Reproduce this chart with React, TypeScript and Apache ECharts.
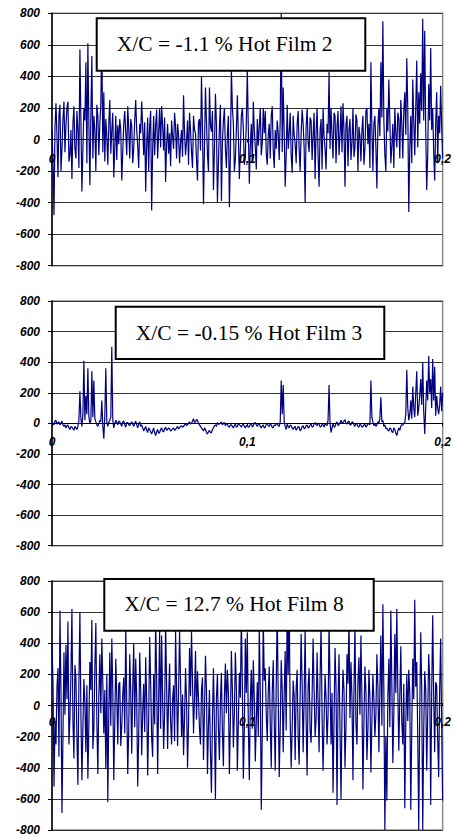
import React, { useEffect, useRef } from "react";
import * as echarts from "echarts";

// Hot-film signals sampled over 0 … 0.2 s (one array per sensor)
const timeSpan = 0.2;

const hotFilm2 = [
  60, -150, -480, 80, 230, 20, -240, 160, 220, -200, -60, 130, 240, -80, 90, 200, 240, -140, -100, 60,
  -250, 100, 210, -60, -120, 180, 60, -180, 570, 120, -330, -60, 200, 120, 490, -150, 610, 100, -290, 150,
  530, -120, 150, 60, -200, 220, 150, -100, 100, 230, 650, -80, 300, -140, 130, 20, -160, 100, 250, -90,
  60, 170, -240, -50, 150, -130, 90, -30, 130, 60, -260, -80, 100, 180, 40, -100, 210, 70, -120, 130,
  90, -150, -60, 120, 250, 60, -40, -180, 100, 40, 240, 80, -100, 110, -330, -40, 140, -200, 90, 180,
  -450, -60, 150, -100, 90, 190, -120, 40, 200, -50, 210, 90, -70, 140, -270, -30, 100, -90, 40, -170,
  120, 20, -60, 170, 80, -120, 100, 30, -150, -20, 60, -110, 280, 40, -100, -10, 120, -160, 170, 60,
  -80, -180, 150, 60, 40, -130, -260, 110, 130, -70, 400, 80, -410, -50, 330, 120, -100, -200, 330, 90,
  50, 180, -320, -70, 290, 100, -400, -150, 80, 220, -390, -20, 120, 200, -60, -180, 40, 150, -430, -100,
  450, 200, 100, -200, -120, 60, 280, 20, -250, -60, 150, 200, 60, -160, -100, 110, 440, 60, -280, -40,
  100, -150, 240, 60, -50, -190, 130, -40, 80, 200, -100, -20, 200, 40, 180, -90, -160, 30, 100, -120,
  150, 210, -70, -180, 60, -60, 120, 40, -130, 120, 800, -80, 330, 50, -300, -100, 220, -60, 40, 170,
  -100, -210, 150, 30, -30, -150, 100, 180, -60, -200, 40, 190, 100, -50, -400, 80, 200, -20, -80, 140,
  120, -130, 30, 170, -250, 50, 200, -100, -300, 60, 130, -190, 200, 20, -60, -190, 100, 40, 430, -60,
  200, 30, -120, 170, 150, -150, 80, 180, -100, 30, 210, -80, 230, 60, -300, 100, 150, -170, 60, 130,
  -130, -20, 200, -110, -50, 160, 120, -200, 80, 20, -140, 60, 150, -160, -60, 180, 200, -30, 100, -180,
  490, 60, -200, 100, 150, -50, -310, 80, 200, 20, 490, 140, 750, 120, -100, -200, 200, 50, 380, 120,
  -150, -40, 100, -180, 200, 40, -50, 170, 130, -120, 250, 100, -120, 180, 300, 30, 515, 200, -460, -60,
  150, -150, 380, 120, -100, 200, 500, -50, 300, 100, 420, 180, 765, 120, 690, 60, -320, -100, 350, 120,
  580, 60, 200, -80, -260, 100, 300, -150, 150, 40, 340, 80, -120,
];

const hotFilm3 = [
  10, 0, -10, 15, 20, -5, 5, 10, -10, 0, 15, -10, -20, -10, -30, -15, -10, -30, -40, -20,
  -25, -35, -45, -20, -30, -40, -20, 20, 210, 30, -20, 60, 410, 20, 180, 60, 360, 40, 0, 20,
  340, 40, 280, 30, 10, -10, -20, 0, 20, 10, 150, -20, -100, 50, 360, 10, -20, 5, 20, 40,
  500, 20, -30, 0, 20, 5, -10, 15, 10, -5, -20, 10, 15, -10, -25, 5, 5, -10, -15, 0,
  10, -5, -20, 0, 15, -10, -30, -5, 10, -20, -10, -30, -50, -35, -20, -45, -60, -30, -40, -55,
  -70, -50, -30, -60, -80, -55, -40, -65, -60, -40, -30, -50, -55, -35, -25, -45, -40, -30, -35, -50,
  -45, -35, -30, -45, -40, -30, -20, -35, -30, -20, -15, -25, -20, -10, 0, -15, -10, 0, 10, -5,
  0, 15, 30, 5, 10, 25, 20, 0, -10, -20, -30, -40, -50, -30, -40, -60, -70, -55, -45, -60,
  -60, -40, -30, -15, -10, -20, 5, -5, -5, 0, 10, -10, 0, 5, -15, -5, -5, -20, -25, -10,
  -10, -20, -30, -15, -5, -25, -20, 0, -10, -15, -25, -10, -5, -20, -30, -15, -10, -25, -20, -5,
  0, -25, -15, 0, 5, -10, -20, -5, -5, -20, -30, -15, -10, -30, -25, -5, 0, -15, -20, -5,
  -10, -25, -30, -10, -15, -5, 0, -15, -20, 10, 280, 60, 250, 10, -20, -40, -5, -20, -30, -10,
  -15, -30, -40, -25, -20, -45, -35, -20, -25, -50, -40, -20, -15, -35, -30, -15, -10, -30, -25, -10,
  -5, -25, -20, -5, 5, -10, -15, 0, -5, -25, -20, -5, -10, -25, 0, -10, -15, 20, 250, 0,
  -60, -30, 0, -25, -20, 0, 10, -15, -10, 5, 20, 0, 5, 15, 25, 0, -5, 10, 15, -10,
  -10, 10, 5, -10, -20, 0, -5, -20, -25, -5, -10, -25, -20, -10, -5, -25, -15, -5, 0, -10,
  280, 40, 10, -15, 0, -20, -10, 10, 5, 30, 170, 10, 20, -20, -10, -35, -30, -45, -50, -30,
  -35, -55, -60, -30, -40, -65, -80, -50, -30, -45, -20, -10, -10, 0, 5, 60, 350, 100, 20, 60,
  150, 30, 240, 100, 40, 200, 340, 50, 100, 180, 290, 120, 400, 80, -70, 100, 280, 150, 440, 200,
  290, 100, 420, 150, 370, 50, 180, 100, 60, 120, 240, 80, 200,
];

const hotFilm8 = [
  400, 150, -520, -100, -250, 120, 240, -330, 610, 100, -690, -200, 340, -60, 390, 40, 540, -250, -80, 200,
  620, -100, -340, 260, 180, -200, -510, 150, 600, -50, -480, -150, 170, 20, -300, 130, -470, -120, 280, 100,
  550, -280, -150, 240, 530, -100, -440, 60, 330, -50, 430, 140, -180, 100, -410, 200, -620, -50, 340, -130,
  430, 90, -480, -100, 300, 60, -250, 140, 150, -260, -130, 70, 180, -180, 510, 20, -440, -150, 330, 80,
  -310, 120, 400, -140, 300, 50, -520, -200, 340, 100, -320, -40, 140, -170, 310, 40, -450, -90, 440, 150,
  -210, -330, 200, -120, 550, 180, -440, 30, 480, -150, 450, 60, -280, -60, 530, 140, -280, 50, 270, -100,
  -250, 40, 130, -230, 480, 110, -260, 90, 480, 160, -200, 70, -320, -80, 240, 30, -400, -120, 370, 60,
  480, 150, -180, 60, 350, -90, 220, 40, -150, -250, 100, 180, -350, -40, 320, 100, -440, -130, 100, -300,
  -560, -80, 240, -120, -600, 50, 200, -140, -350, 30, 210, -170, -390, 60, 270, -50, 230, 80, -440, -100,
  350, 100, -270, -50, 340, 120, -420, -100, 210, 50, 580, 130, -470, -150, 430, 80, 470, -120, -480, 40,
  230, -150, 290, 50, -360, -100, 150, -200, 510, 100, -670, -180, 560, 160, 240, -60, -230, 90, 250, -120,
  -400, 80, 290, -100, -420, 130, 620, 40, -460, -150, 290, 100, -300, 70, 350, -160, 650, 200, 700, -100,
  -400, -150, 160, 60, -350, 110, 230, -200, -380, 70, 460, 130, -300, 40, 500, -100, -450, 120, 240, -160,
  -240, 60, 430, 100, -200, -90, 340, 20, -300, 180, 520, -60, -420, -100, 200, 50, -250, -60, 530, 150,
  -250, 80, -560, -100, 370, 120, -640, 30, 330, -150, -600, -50, 230, 100, -400, -130, 330, 140, 560, -80,
  280, 50, -480, 100, 520, -120, -250, 160, 310, -60, 450, 40, -540, -110, 250, 90, -350, -150, 230, 60,
  -430, -100, 200, 40, -200, -60, 330, 120, -300, 100, 450, -130, 650, 100, -800, -200, -610, 60, 300, -140,
  610, 150, -370, -60, 460, 80, 620, 100, -290, 50, 380, -100, -250, 140, -660, -120, 200, -100, 230, 80,
  -670, -150, 300, 40, 680, 120, 280, -200, -800, -50, 470, 100, -800, -160, 220, 100, -420, -60, 330, 160,
  -640, 80, 580, 60, -300, 150, 130, -220, -460, 100, 430, -130, -610,
];

const panelTitles = [
  "X/C = -1.1 % Hot Film 2",
  "X/C = -0.15 % Hot Film 3",
  "X/C = 12.7 % Hot Film 8",
];

const signals = [hotFilm2, hotFilm3, hotFilm8];

const yMin = -800;
const yMax = 800;
const yStep = 200;
const xTicks = [0, 0.1, 0.2];

// panel placement (pixels)
const plotLeft = 52;
const plotWidth = 393;
const panels = [
  { top: 13.3, height: 252.4, box: { x: 96.7, y: 18.3, w: 268.6, h: 52.4 }, textY: 44 },
  { top: 301, height: 244.7, box: { x: 115.7, y: 306.7, w: 268.6, h: 52.3 }, textY: 332.5 },
  { top: 581, height: 253.7, box: { x: 104.3, y: 579, w: 269.4, h: 51.7 }, textY: 604.3 },
];

const labelFont = {
  color: "#000",
  fontFamily: '"Liberation Sans", Arial, sans-serif',
  fontWeight: "bold" as const,
  fontStyle: "italic" as const,
  fontSize: 12,
};

function toPoints(values: number[]) {
  const step = timeSpan / (values.length - 1);
  return values.map((v, i) => [i * step, v]);
}

function formatTime(v: number) {
  if (Math.abs(v) < 1e-9) return "0";
  return (Math.round(v * 10) / 10).toFixed(1).replace(".", ",");
}

export default function App() {
  const ref = useRef<HTMLDivElement>(null);

  useEffect(() => {
    if (!ref.current) return;
    const chart = echarts.init(ref.current, null, { renderer: "svg" });

    const grid = panels.map((p) => ({
      left: plotLeft,
      top: p.top,
      width: plotWidth,
      height: p.height,
      show: true,
      borderColor: "#8c8c8c",
      borderWidth: 1.5,
      backgroundColor: "#fff",
    }));

    // the time axis crosses the value axis at zero, which sits mid-height
    const xAxis = panels.map((p, k) => ({
      type: "value" as const,
      gridIndex: k,
      position: "bottom" as const,
      offset: -p.height / 2,
      min: xTicks[0],
      max: xTicks[xTicks.length - 1],
      interval: xTicks[1] - xTicks[0],
      axisLine: { show: true, onZero: false, lineStyle: { color: "#000", width: 1.2 } },
      axisTick: { show: true, length: 3, lineStyle: { color: "#000" } },
      axisLabel: { ...labelFont, margin: 13, formatter: formatTime },
      splitLine: { show: false },
      z: 4,
    }));

    const yAxis = panels.map((_, k) => ({
      type: "value" as const,
      gridIndex: k,
      min: yMin,
      max: yMax,
      interval: yStep,
      axisLine: { show: true, onZero: false, lineStyle: { color: "#000", width: 1.5 } },
      axisTick: { show: true, length: 4, lineStyle: { color: "#000" } },
      axisLabel: { ...labelFont, margin: 12 },
      splitLine: { show: true, lineStyle: { color: "#333", width: 1 } },
    }));

    const series = signals.map((values, k) => ({
      type: "line" as const,
      xAxisIndex: k,
      yAxisIndex: k,
      data: toPoints(values),
      showSymbol: false,
      symbol: "none",
      clip: true,
      lineStyle: { color: "#000080", width: 1.2 },
      z: 3,
    }));

    const graphic = panels.map((p, k) => ({
      type: "group" as const,
      z: 100,
      children: [
        {
          type: "rect" as const,
          z: 100,
          shape: { x: p.box.x, y: p.box.y, width: p.box.w, height: p.box.h },
          style: { fill: "#fff", stroke: "#000", lineWidth: 2 },
        },
        {
          type: "text" as const,
          z: 101,
          x: p.box.x + 20,
          y: p.textY,
          style: {
            text: panelTitles[k],
            fill: "#000",
            fontSize: 21.5,
            fontFamily: '"Liberation Serif", "Times New Roman", serif',
            align: "left",
            verticalAlign: "middle",
          },
        },
      ],
    }));

    chart.setOption({
      animation: false,
      backgroundColor: "#fff",
      grid,
      xAxis,
      yAxis,
      series,
      graphic,
    });

    return () => chart.dispose();
  }, []);

  return (
    <div
      ref={ref}
      style={{ position: "absolute", left: 0, top: 0, width: 454, height: 836 }}
    />
  );
}
